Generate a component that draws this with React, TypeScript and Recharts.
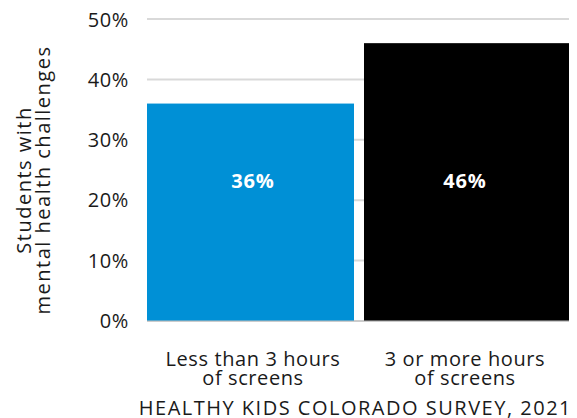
import { BarChart, Bar, XAxis, YAxis, CartesianGrid, LabelList } from 'recharts';

const categories = ['Less than 3 hours of screens', '3 or more hours of screens'];
const tickLines = [
  ['Less than 3 hours', 'of screens'],
  ['3 or more hours', 'of screens'],
];
const values = [36, 46];
const barColors = ['#0090d6', '#000000'];
const yTicks = [0, 10, 20, 30, 40, 50];
const yLabelLines = ['Students with', 'mental health challenges'];
const source = 'HEALTHY KIDS COLORADO SURVEY, 2021';

const data = categories.map((name, i) => ({ name, value: values[i], fill: barColors[i] }));

const FONT = '"Open Sans", sans-serif';
const SPACING = 0.6;

// bars fill the whole band with a 10px gap between them
const BarShape = (props: any) => {
  const { x, y, width, height, index, fill } = props;
  const left = index === 0 ? x : x + 5;
  const w = width - 5;
  return <rect x={left} y={y} width={w} height={height} fill={fill} />;
};

const XTick = (props: any) => {
  const { x, y, index } = props;
  const lines = tickLines[index] || [];
  return (
    <text
      x={x}
      y={y + 37}
      textAnchor="middle"
      fontSize={20}
      fill="#1a1a1a"
      fontFamily={FONT}
      letterSpacing={SPACING}
    >
      {lines.map((l, i) => (
        <tspan key={i} x={x} dy={i === 0 ? 0 : 19}>
          {l}
        </tspan>
      ))}
    </text>
  );
};

const YLabel = (props: any) => {
  const { viewBox } = props;
  const cy = viewBox.y + viewBox.height / 2 + 10;
  return (
    <text
      transform={`translate(0, ${cy}) rotate(-90)`}
      textAnchor="middle"
      fontSize={20}
      fill="#1a1a1a"
      fontFamily={FONT}
      letterSpacing={1.5}
    >
      {yLabelLines.map((l, i) => (
        <tspan key={i} x={0} y={23 + i * 19}>
          {l}
        </tspan>
      ))}
    </text>
  );
};

const ValueLabel = (props: any) => {
  const { x, y, width, height, value } = props;
  return (
    <text
      x={x + width / 2}
      y={y + height - 141}
      textAnchor="middle"
      dominantBaseline="central"
      fontSize={20}
      fontWeight={700}
      fill="#ffffff"
      fontFamily={FONT}
      letterSpacing={0.8}
    >
      {value}%
    </text>
  );
};

export default function App() {
  return (
    <div style={{ position: 'relative', width: 569, height: 410 }}>
      <BarChart
        width={569}
        height={410}
        data={data}
        margin={{ top: 11, right: 6, bottom: 47, left: 0 }}
        barCategoryGap={0}
      >
        <CartesianGrid vertical={false} stroke="#d9d9d9" strokeWidth={2} />
        <XAxis
          dataKey="name"
          axisLine={{ stroke: '#bfbfbf' }}
          tickLine={false}
          tick={<XTick />}
          height={50}
          interval={0}
        />
        <YAxis
          domain={[0, 50]}
          ticks={yTicks}
          width={139}
          axisLine={false}
          tickLine={false}
          tickMargin={12}
          tickFormatter={(v: number) => `${v}%`}
          tick={{ fontSize: 20, fill: '#1a1a1a', fontFamily: FONT, letterSpacing: SPACING }}
          label={<YLabel />}
        />
        <Bar dataKey="value" shape={<BarShape />} isAnimationActive={false}>
          <LabelList dataKey="value" content={<ValueLabel />} />
        </Bar>
      </BarChart>
      <div
        style={{
          position: 'absolute',
          right: 5,
          top: 390,
          textAlign: 'right',
          fontFamily: FONT,
          fontSize: 20,
          letterSpacing: 1.5,
          color: '#1a1a1a',
          whiteSpace: 'nowrap',
          lineHeight: '20px',
        }}
      >
        {source}
      </div>
    </div>
  );
}
